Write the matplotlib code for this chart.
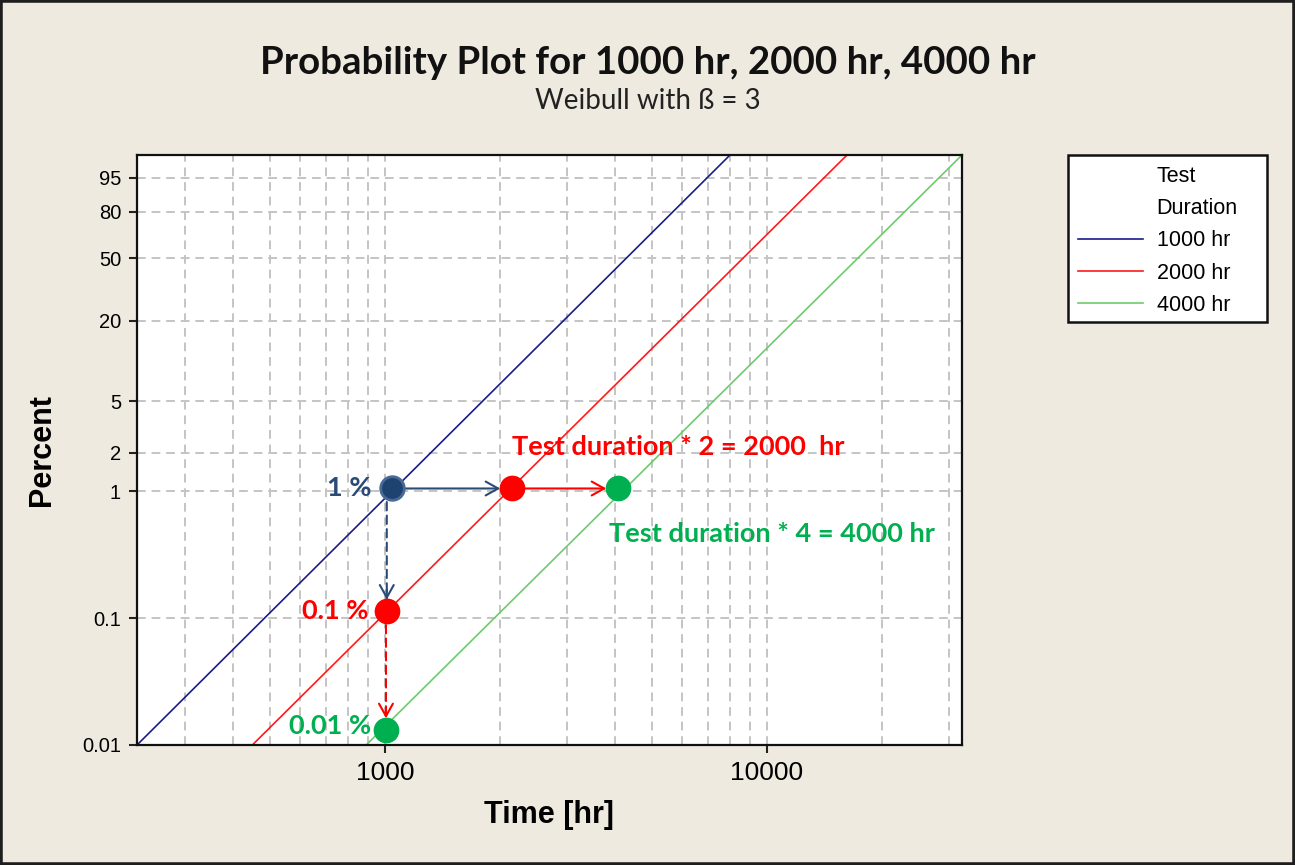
import numpy as np
import matplotlib
matplotlib.use('Agg')
import matplotlib.pyplot as plt
from matplotlib.lines import Line2D
from matplotlib.patches import Rectangle
from matplotlib.ticker import LogLocator, NullFormatter, NullLocator

# Weibull (beta = 3) lines for each test duration: time at the bottom and top of the plot
pct_ends = [0.01, 98.9]
time_1000 = [224, 8000]
time_2000 = [449, 16200]
time_4000 = [892, 32400]

pct_ticks = [0.01, 0.1, 1, 2, 5, 20, 50, 80, 95]
pct_labels = ['0.01', '0.1', '1', '2', '5', '20', '50', '80', '95']
time_ticks = [1000, 10000]
time_labels = ['1000', '10000']

# worked example points (time, percent)
p_1pct = (1043, 1.05)
p_2x = (2150, 1.05)
p_4x = (4075, 1.05)
p_01pct = (1010, 0.113)
p_001pct = (1005, 0.0131)

BG = '#EEEAE0'
BLUE_LINE = '#1B1B8A'
RED_LINE = '#FF1A1A'
GREEN_LINE = '#6DCB6D'
NAVY = '#2A4A7A'
RED = '#FF0000'
GREEN = '#00B050'
GRID = '#C4C4C4'


def weibull_fwd(p):
    p = np.clip(np.asarray(p, dtype=float), 1e-9, 100 - 1e-9) / 100.0
    return np.log(-np.log(1 - p))


def weibull_inv(y):
    return 100.0 * (1 - np.exp(-np.exp(y)))


plt.rcParams['font.family'] = ['Liberation Sans', 'DejaVu Sans']

fig = plt.figure(figsize=(12.95, 8.65), dpi=100, facecolor=BG)
ax = fig.add_axes([137 / 1295, 120 / 865, 825 / 1295, 590 / 865])
ax.set_facecolor('white')

ax.set_xscale('log')
ax.set_yscale('function', functions=(weibull_fwd, weibull_inv))
ax.set_xlim(224, 32400)
ax.set_ylim(pct_ends[0], pct_ends[1])

ax.set_xticks(time_ticks, time_labels)
ax.xaxis.set_minor_locator(LogLocator(base=10, subs=range(2, 10)))
ax.xaxis.set_minor_formatter(NullFormatter())
ax.set_yticks(pct_ticks, pct_labels)
ax.yaxis.set_minor_locator(NullLocator())
ax.tick_params(which='major', direction='out', length=5.5, width=1.5, color='#222222')
ax.tick_params(axis='x', which='minor', length=0)
ax.tick_params(axis='y', labelsize=14.5, pad=6)
ax.tick_params(axis='x', labelsize=19, pad=6)

grid_style = dict(color=GRID, lw=1.4, linestyle=(0, (4.5, 3)))
ax.grid(True, which='both', axis='x', **grid_style)
ax.grid(True, which='major', axis='y', **grid_style)
ax.set_axisbelow(True)
for s in ax.spines.values():
    s.set_linewidth(1.6)
    s.set_color('#111111')

l1, = ax.plot(time_1000, pct_ends, color=BLUE_LINE, lw=1.2, label='1000 hr')
l2, = ax.plot(time_2000, pct_ends, color=RED_LINE, lw=1.2, label='2000 hr')
l3, = ax.plot(time_4000, pct_ends, color=GREEN_LINE, lw=1.2, label='4000 hr')

ax.set_xlabel('Time [hr]', fontsize=22, weight='bold', labelpad=11)
ax.set_ylabel('Percent', fontsize=22, weight='bold', labelpad=18)

# arrows of the worked example
head = '->,head_length=0.9,head_width=0.5'
ax.annotate('', xy=p_2x, xytext=p_1pct, zorder=4,
            arrowprops=dict(arrowstyle=head, color=NAVY, lw=1.5, shrinkA=0, shrinkB=8.5))
ax.annotate('', xy=p_4x, xytext=p_2x, zorder=4,
            arrowprops=dict(arrowstyle=head, color=RED, lw=1.5, shrinkA=0, shrinkB=8.5))

# dashed vertical arrows: dashed shaft plus a solid head
ax.annotate('', xy=p_01pct, xytext=(p_01pct[0], p_1pct[1]), zorder=4,
            arrowprops=dict(arrowstyle='-', color=NAVY, lw=1.5, linestyle=(0, (4, 2.5)),
                            shrinkA=0, shrinkB=8.5))
ax.annotate('', xy=p_01pct, xytext=(0, 16), textcoords='offset points', zorder=4,
            arrowprops=dict(arrowstyle=head, color=NAVY, lw=1.5, shrinkA=0, shrinkB=8.5))
ax.annotate('', xy=p_001pct, xytext=(p_001pct[0], p_01pct[1]), zorder=4,
            arrowprops=dict(arrowstyle='-', color=RED, lw=1.5, linestyle=(0, (4, 2.5)),
                            shrinkA=0, shrinkB=8.5))
ax.annotate('', xy=p_001pct, xytext=(0, 16), textcoords='offset points', zorder=4,
            arrowprops=dict(arrowstyle=head, color=RED, lw=1.5, shrinkA=0, shrinkB=8.5))

# dots
ax.plot(*p_1pct, 'o', ms=17, mfc='#1F4371', mec='#4A6A96', mew=2, zorder=5)
ax.plot(*p_2x, 'o', ms=17.5, mfc=RED, mec=RED, zorder=5)
ax.plot(*p_4x, 'o', ms=17.5, mfc=GREEN, mec=GREEN, zorder=5)
ax.plot(*p_01pct, 'o', ms=17.5, mfc=RED, mec=RED, zorder=5)
ax.plot(*p_001pct, 'o', ms=17.5, mfc=GREEN, mec=GREEN, zorder=5)

note = dict(family=['Lato', 'DejaVu Sans'], weight='bold', fontsize=19.5,
            textcoords='offset points', va='center', zorder=6)
ax.annotate('1 %', xy=p_1pct, xytext=(-15, 0), ha='right', color=NAVY, **note)
ax.annotate('0.1 %', xy=p_01pct, xytext=(-13, 0), ha='right', color=RED, **note)
ax.annotate('0.01 %', xy=p_001pct, xytext=(-11, 3), ha='right', color=GREEN, **note)
ax.annotate('Test duration * 2 = 2000  hr', xy=p_2x, xytext=(0, 30), ha='left', color=RED, **note)
ax.annotate('Test duration * 4 = 4000 hr', xy=p_4x, xytext=(-6.5, -33), ha='left', color=GREEN, **note)

# titles
fig.text(0.5, 1 - 63 / 865, 'Probability Plot for 1000 hr, 2000 hr, 4000 hr',
         ha='center', va='center', fontsize=27.6, weight='bold', family=['Lato', 'DejaVu Sans'],
         color='#111111')
fig.text(0.5, 1 - 101 / 865, 'Weibull with ß = 3', ha='center', va='center', fontsize=20,
         family=['Lato', 'DejaVu Sans'], color='#222222')

# legend with a two-line header aligned on the label column
fig.add_artist(Rectangle((1068 / 1295, 1 - 322 / 865), 199 / 1295, 167 / 865,
                         transform=fig.transFigure, facecolor='white', edgecolor='#111111',
                         lw=1.8, zorder=1))
blank = Line2D([], [], linestyle='none')
fig.legend([blank, blank, l1, l2, l3], ['Test', 'Duration', '1000 hr', '2000 hr', '4000 hr'],
           loc='upper left', bbox_to_anchor=(1078 / 1295, 1 - 166 / 865), frameon=False,
           fontsize=15.5, handlelength=3.0, handletextpad=0.65, labelspacing=0.52, borderpad=0,
           borderaxespad=0)

# outer frame
fig.add_artist(Rectangle((0, 0), 1, 1, transform=fig.transFigure, fill=False,
                         edgecolor='#1E1E1E', lw=4, zorder=10))

fig.savefig('out.png', dpi=100, facecolor=fig.get_facecolor())
